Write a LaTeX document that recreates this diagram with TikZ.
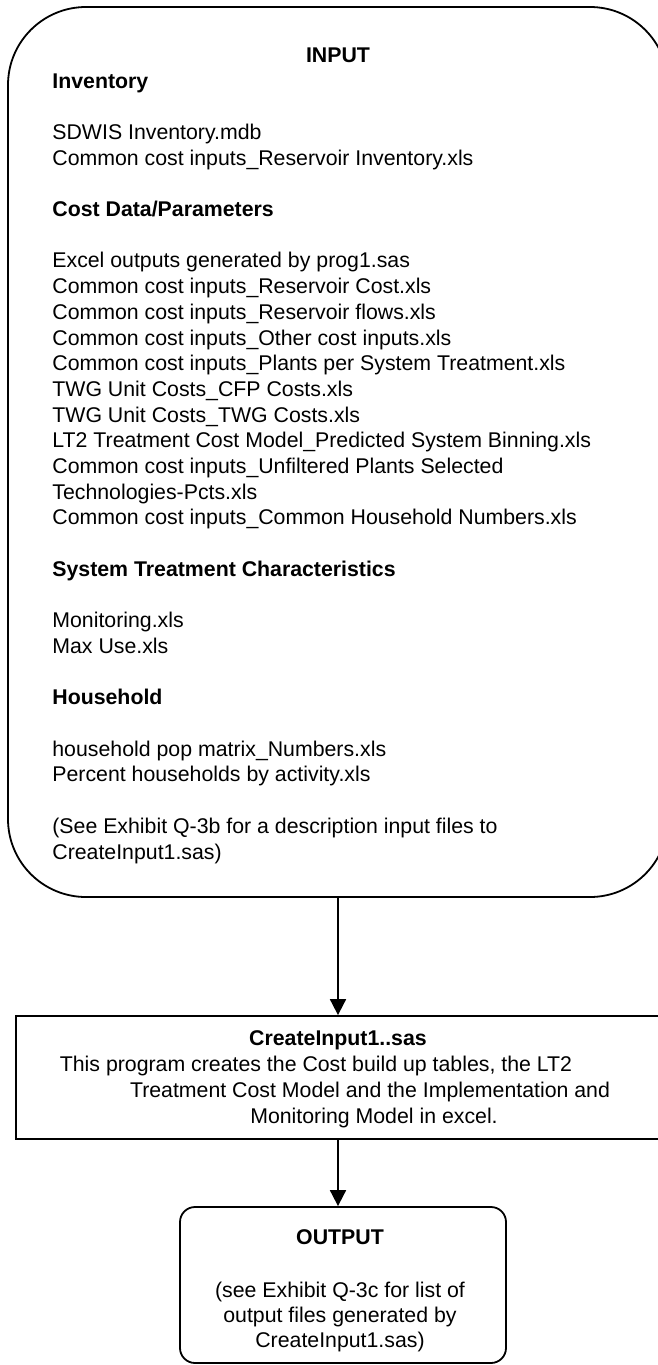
\documentclass[tikz,border=0pt]{standalone}
\usepackage{fontspec}
\setmainfont{Liberation Sans}
\usetikzlibrary{arrows.meta}

\begin{document}
\begin{tikzpicture}[
  x=0.5pt, y=-0.5pt,
  >={Triangle[width=8pt,length=8pt]},
  line/.style={->, line width=0.9pt},
  inBox/.style={
    draw, line width=0.9pt, rounded corners=39pt,
    minimum width=330pt, minimum height=445pt
  },
  progBox/.style={
    draw, line width=0.9pt,
    minimum width=337pt, minimum height=61.5pt
  },
  outBox/.style={
    draw, line width=0.9pt, rounded corners=7.5pt,
    minimum width=163pt, minimum height=78pt
  },
  item/.style={anchor=base west, inner sep=0pt,
    font=\fontsize{10.65}{12.85}\selectfont},
  head/.style={item, font=\fontsize{10.65}{12.85}\selectfont\bfseries},
  mid/.style={anchor=base, inner sep=0pt,
    font=\fontsize{10.65}{12.85}\selectfont},
  midHead/.style={mid, font=\fontsize{10.65}{12.85}\selectfont\bfseries}
]
\useasboundingbox (0,0) rectangle (658,1365);
\clip (0,0) rectangle (658,1365);

% --- Boxes ---
\node[inBox]   (input) at (338, 452) {};
\node[progBox] (prog)  at (353, 1077.5) {};
\node[outBox]  (out)   at (343, 1285) {};

% --- Input box text ---
\node[midHead] (inTitle) at (338, 62) {INPUT};
\node[head] (hInv)  at (52, 88) {Inventory};
\node[head] (hCost) at (52, 88+25.7*5) {Cost Data/Parameters};
\node[head] (hSys)  at (52, 88+25.7*19) {System Treatment Characteristics};
\node[head] (hHh)   at (52, 88+25.7*24) {Household};

\foreach \k/\t in {
  2/{SDWIS Inventory.mdb},
  3/{Common cost inputs\_Reservoir Inventory.xls},
  7/{Excel outputs generated by prog1.sas},
  8/{Common cost inputs\_Reservoir Cost.xls},
  9/{Common cost inputs\_Reservoir flows.xls},
  10/{Common cost inputs\_Other cost inputs.xls},
  11/{Common cost inputs\_Plants per System Treatment.xls},
  12/{TWG Unit Costs\_CFP Costs.xls},
  13/{TWG Unit Costs\_TWG Costs.xls},
  14/{LT2 Treatment Cost Model\_Predicted System Binning.xls},
  15/{Common cost inputs\_Unfiltered Plants Selected},
  16/{Technologies-Pcts.xls},
  17/{Common cost inputs\_Common Household Numbers.xls},
  21/{Monitoring.xls},
  22/{Max Use.xls},
  26/{household pop matrix\_Numbers.xls},
  27/{Percent households by activity.xls},
  29/{(See Exhibit Q-3b for a description input files to},
  30/{CreateInput1.sas)}}{
  \node[item] (l\k) at (52, 88+25.7*\k) {\t};
}

% --- Program box text ---
\node[midHead] (pTitle) at (338, 1045) {CreateInput1..sas};
\node[mid] (p1) at (316, 1071) {This program creates the Cost build up tables, the LT2};
\node[mid] (p2) at (370, 1097) {Treatment Cost Model and the Implementation and};
\node[mid] (p3) at (374, 1123) {Monitoring Model in excel.};

% --- Output box text ---
\node[midHead] (oTitle) at (340, 1244) {OUTPUT};
\node[mid] (o1) at (340, 1297) {(see Exhibit Q-3c for list of};
\node[mid] (o2) at (340, 1322) {output files generated by};
\node[mid] (o3) at (340, 1347) {CreateInput1.sas)};

% --- Arrows ---
\draw[line] (input.south) -- (input.south |- prog.north);
\draw[line] (input.south |- prog.south) -- (input.south |- out.north);

\end{tikzpicture}
\end{document}
